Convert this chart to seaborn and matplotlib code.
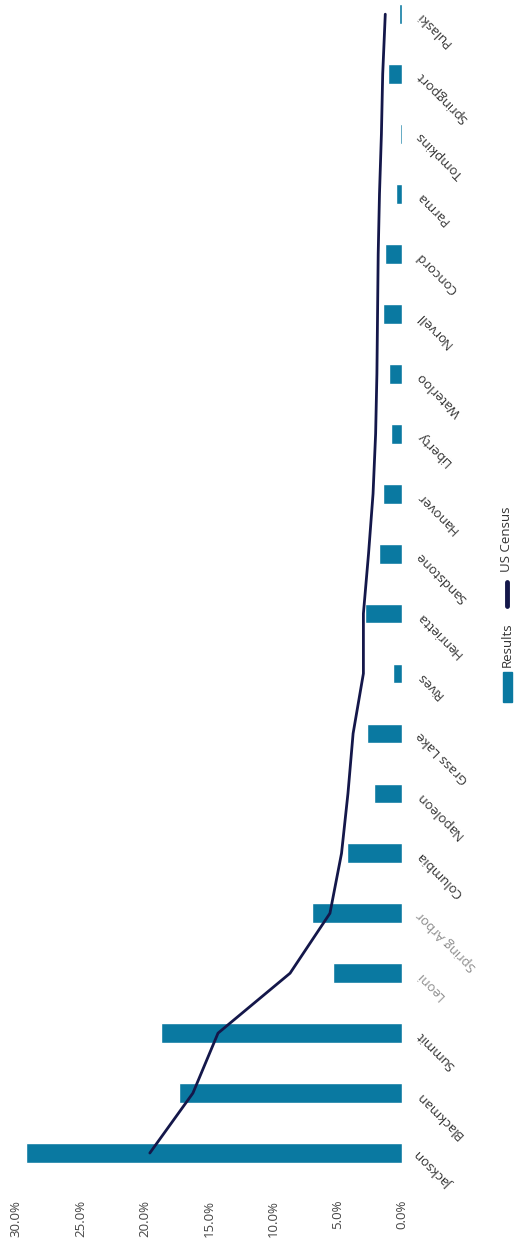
import matplotlib
matplotlib.use("Agg")
import matplotlib.pyplot as plt
import seaborn as sns
import pandas as pd
from matplotlib.patches import Rectangle
from matplotlib.lines import Line2D

# Townships, listed from top of the chart to bottom
townships = ["Pulaski", "Springport", "Tompkins", "Parma", "Concord", "Norvell",
             "Waterloo", "Liberty", "Hanover", "Sandstone", "Henrietta", "Rives",
             "Grass Lake", "Napoleon", "Columbia", "Spring Arbor", "Leoni",
             "Summit", "Blackman", "Jackson"]
# Share of survey results (%)
results = [0.25, 1.1, 0.12, 0.45, 1.3, 1.5, 1.0, 0.85, 1.5, 1.8, 2.9, 0.7,
           2.7, 2.2, 4.3, 7.0, 5.4, 18.7, 17.3, 29.2]
# Share of population per US Census (%)
census = [1.3, 1.5, 1.6, 1.75, 1.85, 1.9, 1.95, 2.05, 2.25, 2.6, 3.0, 3.0,
          3.8, 4.2, 4.7, 5.6, 8.7, 14.3, 16.25, 19.6]
x_ticks = [30, 25, 20, 15, 10, 5, 0]
muted_labels = ["Spring Arbor", "Leoni"]

BAR_COLOR = "#0A79A1"
LINE_COLOR = "#14174A"
TEXT_COLOR = "#333333"

sns.set_theme(style="white")
plt.rcParams["font.family"] = ["Open Sans", "DejaVu Sans"]

W, H = 523, 1247
fig = plt.figure(figsize=(W / 100, H / 100), dpi=100)
ax = fig.add_axes([16 / W, 64 / H, (402 - 16) / W, 1182 / H])

df = pd.DataFrame({"township": townships, "results": results})
sns.barplot(data=df, x="results", y="township", order=townships, orient="h",
            color=BAR_COLOR, saturation=1, width=0.33, ax=ax)

positions = list(range(len(townships)))
ax.plot(census, positions, color=LINE_COLOR, lw=2.0, solid_capstyle="round",
        zorder=3)

ax.set_xlim(30, 0)
ax.set_ylim(len(townships) - 0.5, -0.22)
ax.set_xlabel("")
ax.set_ylabel("")
for s in ax.spines.values():
    s.set_visible(False)
ax.grid(False)

ax.set_xticks(x_ticks)
ax.set_xticklabels([f"{v:.1f}%" for v in x_ticks], rotation=90,
                   fontsize=9.5, color="#444444")
ax.tick_params(axis="x", length=0, pad=12)

ax.yaxis.tick_right()
ax.set_yticks(positions)
ax.set_yticklabels(townships)
ax.tick_params(axis="y", length=0, pad=12)
for lab in ax.get_yticklabels():
    lab.set_rotation(135)
    lab.set_rotation_mode("anchor")
    lab.set_ha("right")
    lab.set_va("center")
    lab.set_fontsize(9.5)
    if lab.get_text() in muted_labels:
        lab.set_color("#8C8C8C")
    else:
        lab.set_color(TEXT_COLOR)

# Legend, stacked vertically and read bottom-to-top
def fy(px):
    return 1 - px / H

fig.patches.append(Rectangle((503 / W, fy(702)), 9 / W, 30 / H,
                             transform=fig.transFigure, color=BAR_COLOR))
fig.text(507 / W, fy(645), "Results", rotation=90, ha="center", va="center",
         fontsize=9.5, color=TEXT_COLOR)
fig.lines.append(Line2D([507 / W, 507 / W], [fy(606), fy(582)],
                        transform=fig.transFigure, color=LINE_COLOR, lw=3.5))
fig.text(507 / W, fy(539), "US Census", rotation=90, ha="center", va="center",
         fontsize=9.5, color=TEXT_COLOR)

fig.savefig("out.png", dpi=100, facecolor="white")
